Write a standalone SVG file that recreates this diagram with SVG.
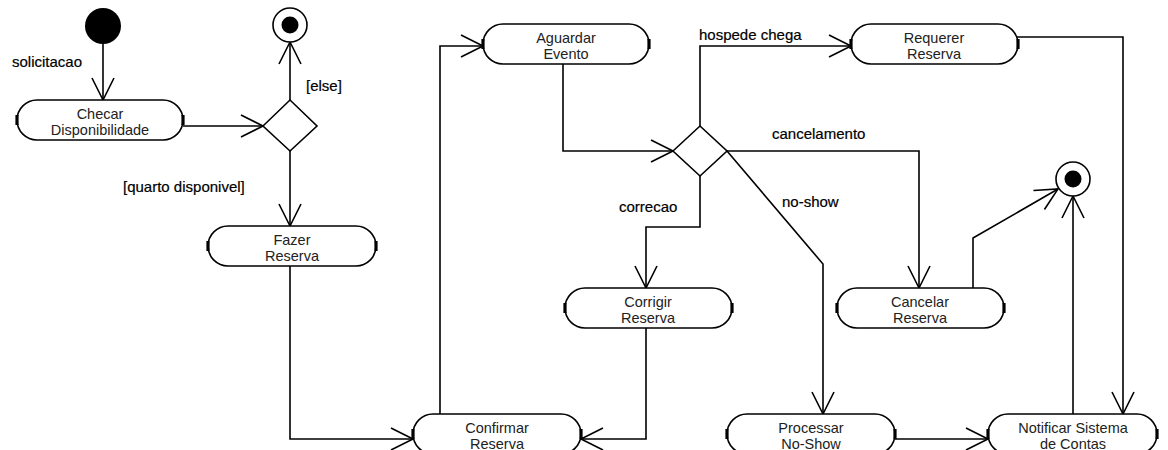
<svg xmlns="http://www.w3.org/2000/svg" width="1168" height="450" viewBox="0 0 1168 450">
<style>
.node{fill:#fff;stroke:#000;stroke-width:1.6}
.tick{stroke:#000;stroke-width:3.2}
.nt{font-family:"Liberation Sans",Arial,sans-serif;font-size:14.5px;fill:#222;text-anchor:middle}
.lbl{font-family:"Liberation Sans",Arial,sans-serif;font-size:15px;fill:#000;stroke:#000;stroke-width:0.2}
.c{fill:none;stroke:#000;stroke-width:1.6}
</style>
<defs>
<marker id="arr" markerWidth="24" markerHeight="24" refX="22" refY="11" orient="auto" markerUnits="userSpaceOnUse" overflow="visible">
<path d="M0,0 L22,11 L0,22" fill="none" stroke="#000" stroke-width="1.6"/>
</marker>
</defs>
<rect width="1168" height="450" fill="#fff"/>
<g id="connectors">
<path class="c" d="M103,44 V100" marker-end="url(#arr)"/>
<path class="c" d="M183,126 H263" marker-end="url(#arr)"/>
<path class="c" d="M290,100 V42" marker-end="url(#arr)"/>
<path class="c" d="M290,151 V226" marker-end="url(#arr)"/>
<path class="c" d="M290,266 V439 H413" marker-end="url(#arr)"/>
<path class="c" d="M440,414 V46 H483" marker-end="url(#arr)"/>
<path class="c" d="M563,64 V151 H673" marker-end="url(#arr)"/>
<path class="c" d="M700,126 V46 H851" marker-end="url(#arr)"/>
<path class="c" d="M727,151 H919 V288" marker-end="url(#arr)"/>
<path class="c" d="M700,176 V227 H646 V288" marker-end="url(#arr)"/>
<path class="c" d="M727,151 L823,264 V414" marker-end="url(#arr)"/>
<path class="c" d="M646,328 V439 H581" marker-end="url(#arr)"/>
<path class="c" d="M1016,37 H1123 V414" marker-end="url(#arr)"/>
<path class="c" d="M895,439 H988" marker-end="url(#arr)"/>
<path class="c" d="M973,288 V238 L1058,189" marker-end="url(#arr)"/>
<path class="c" d="M1073,414 V196" marker-end="url(#arr)"/>
</g>
<g id="start"><circle cx="103" cy="26" r="18" fill="#000"/></g>
<g id="end1"><circle cx="290" cy="25" r="17" fill="#fff" stroke="#000" stroke-width="1.6"/><circle cx="290" cy="25" r="8.5" fill="#000"/></g>
<g id="end2"><circle cx="1073" cy="179" r="17" fill="#fff" stroke="#000" stroke-width="1.6"/><circle cx="1073" cy="179" r="8.5" fill="#000"/></g>
<g id="decision1"><path class="node" d="M263,126 L290,100 L317,126 L290,151 Z"/></g>
<g id="decision2"><path class="node" d="M673,151 L700,126 L727,151 L700,176 Z"/></g>
<g id="checar"><rect class="node" x="17" y="100" width="166" height="40" rx="20"/><path class="tick" d="M17,115V125M183,115V125"/><text class="nt" x="100" y="119">Checar</text><text class="nt" x="100" y="135">Disponibilidade</text></g>
<g id="fazer"><rect class="node" x="208" y="226" width="168" height="40" rx="20"/><path class="tick" d="M208,241V251M376,241V251"/><text class="nt" x="292" y="245">Fazer</text><text class="nt" x="292" y="261">Reserva</text></g>
<g id="aguardar"><rect class="node" x="483" y="24" width="166" height="40" rx="20"/><path class="tick" d="M483,39V49M649,39V49"/><text class="nt" x="566" y="43">Aguardar</text><text class="nt" x="566" y="59">Evento</text></g>
<g id="requerer"><rect class="node" x="851" y="24" width="167" height="40" rx="20"/><path class="tick" d="M851,39V49M1018,39V49"/><text class="nt" x="934" y="43">Requerer</text><text class="nt" x="934" y="59">Reserva</text></g>
<g id="corrigir"><rect class="node" x="565" y="288" width="167" height="40" rx="20"/><path class="tick" d="M565,303V313M732,303V313"/><text class="nt" x="648" y="307">Corrigir</text><text class="nt" x="648" y="323">Reserva</text></g>
<g id="cancelar"><rect class="node" x="837" y="288" width="167" height="40" rx="20"/><path class="tick" d="M837,303V313M1004,303V313"/><text class="nt" x="920" y="307">Cancelar</text><text class="nt" x="920" y="323">Reserva</text></g>
<g id="confirmar"><rect class="node" x="413" y="414" width="168" height="40" rx="20"/><path class="tick" d="M413,429V439M581,429V439"/><text class="nt" x="497" y="433">Confirmar</text><text class="nt" x="497" y="449">Reserva</text></g>
<g id="processar"><rect class="node" x="727" y="414" width="168" height="40" rx="20"/><path class="tick" d="M727,429V439M895,429V439"/><text class="nt" x="811" y="433">Processar</text><text class="nt" x="811" y="449">No-Show</text></g>
<g id="notificar"><rect class="node" x="988" y="414" width="169" height="40" rx="20"/><path class="tick" d="M988,429V439M1157,429V439"/><text class="nt" x="1073" y="433">Notificar Sistema</text><text class="nt" x="1073" y="449">de Contas</text></g>
<g id="labels">
<text class="lbl" x="12" y="67">solicitacao</text>
<text class="lbl" x="306" y="91">[else]</text>
<text class="lbl" x="123" y="192">[quarto disponivel]</text>
<text class="lbl" x="699" y="40">hospede chega</text>
<text class="lbl" x="772" y="139">cancelamento</text>
<text class="lbl" x="619" y="212">correcao</text>
<text class="lbl" x="782" y="207">no-show</text>
</g>
</svg>
